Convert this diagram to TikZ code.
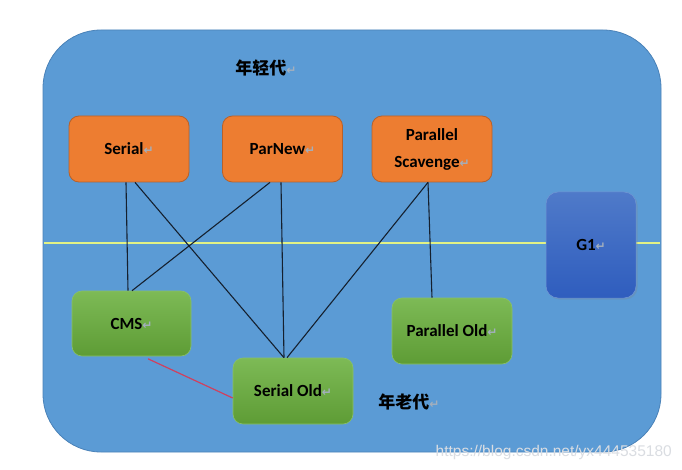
\documentclass[tikz,border=0pt]{standalone}
\usepackage{fontspec}
\setmainfont{Carlito}
\newfontfamily\cjk{Noto Sans CJK SC}
\newfontfamily\symf{DejaVu Sans}
\usetikzlibrary{shadows}
\definecolor{bgblue}{HTML}{5B9BD5}
\definecolor{bgedge}{HTML}{4A82B8}
\definecolor{orfill}{HTML}{ED7D31}
\definecolor{oredge}{HTML}{B8612A}
\definecolor{grtop}{HTML}{7DBA56}
\definecolor{grbot}{HTML}{5E9C35}
\definecolor{g1top}{HTML}{4F7AC9}
\definecolor{g1bot}{HTML}{2F5DBE}
\definecolor{yline}{HTML}{E2F285}
\definecolor{conn}{HTML}{15202E}
\definecolor{redconn}{HTML}{D0405E}
\definecolor{retmark}{HTML}{A3AFBD}
\definecolor{wmark}{HTML}{DADDE2}
\newcommand{\rmk}{{\symf\fontsize{12}{12}\selectfont\textcolor{retmark}{↵}}}
\tikzset{
  lbl/.style={font=\bfseries\fontsize{17}{27}\selectfont, text=black, align=center},
  youngbox/.style={lbl, rectangle, rounded corners=10pt, fill=orfill, draw=oredge, line width=0.8pt, minimum width=120pt, minimum height=66pt, inner sep=0pt},
  oldbox/.style={lbl, rectangle, rounded corners=10pt, top color=grtop, bottom color=grbot, draw=grtop!90!white, line width=0.6pt, minimum width=120pt, minimum height=66pt, inner sep=0pt},
  g1box/.style={lbl, rectangle, rounded corners=12pt, top color=g1top, bottom color=g1bot, draw=g1top!80!white, line width=0.5pt, minimum width=90pt, minimum height=106pt, inner sep=0pt, drop shadow={opacity=0.25, shadow xshift=1.5pt, shadow yshift=-1.5pt}},
  link/.style={draw=conn, line width=1.1pt},
  redlink/.style={draw=redconn, line width=1.2pt},
  genlabel/.style={font=\cjk\bfseries\fontsize{17}{17}\selectfont, text=black},
}
\begin{document}
\begin{tikzpicture}[x=1pt,y=-1pt]
\useasboundingbox (0,0) rectangle (682,470);
\fill[white] (0,0) rectangle (682,470);
% background
\path[fill=bgblue, draw=bgedge, line width=0.8pt, rounded corners=58pt] (43,30) rectangle (661,452);
% divider
\coordinate (ylL) at (44,243);
\coordinate (ylR) at (660,243);
\draw[yline, line width=1.6pt] (ylL) -- (ylR);
% labels
\node[genlabel] (young) at (266,68) {年轻代\rmk};
\node[genlabel] (old) at (409,402) {年老代\rmk};
% young generation
\node[youngbox] (serial) at (129,149) {Serial\rmk};
\node[youngbox] (parnew) at (282.5,149) {ParNew\rmk};
\node[youngbox] (ps) at (432,149) {Parallel\\Scavenge\rmk};
% old generation
\node[oldbox, minimum width=119pt, minimum height=65pt] (cms) at (131.5,323.5) {CMS\rmk};
\node[oldbox] (sold) at (293,391) {Serial Old\rmk};
\node[oldbox] (pold) at (452,331) {Parallel Old\rmk};
% G1
\node[g1box] (g1) at (591,245) {G1\rmk};
% connectors
\draw[link] ([xshift=-3pt]serial.south) -- ([xshift=-3.5pt]cms.north);
\draw[link] ([xshift=6pt]serial.south) -- ([xshift=-9pt]sold.north);
\draw[link] ([xshift=-12.5pt]parnew.south) -- ([xshift=0.5pt]cms.north);
\draw[link] ([xshift=-1.5pt]parnew.south) -- ([xshift=-9pt]sold.north);
\draw[link] ([xshift=-4pt]ps.south) -- ([xshift=-6pt]sold.north);
\draw[link] ([xshift=-4pt]ps.south) -- ([xshift=-20pt]pold.north);
\draw[redlink] ([xshift=16.5pt,yshift=-2.5pt]cms.south) -- ([yshift=-7pt]sold.west);
% watermark
\node[font=\fontspec{Liberation Sans}\fontsize{15.5}{15.5}\selectfont, text=wmark, anchor=east, inner sep=0pt] (wm) at (672,452) {https://blog.csdn.net/yx444535180};
\end{tikzpicture}
\end{document}
